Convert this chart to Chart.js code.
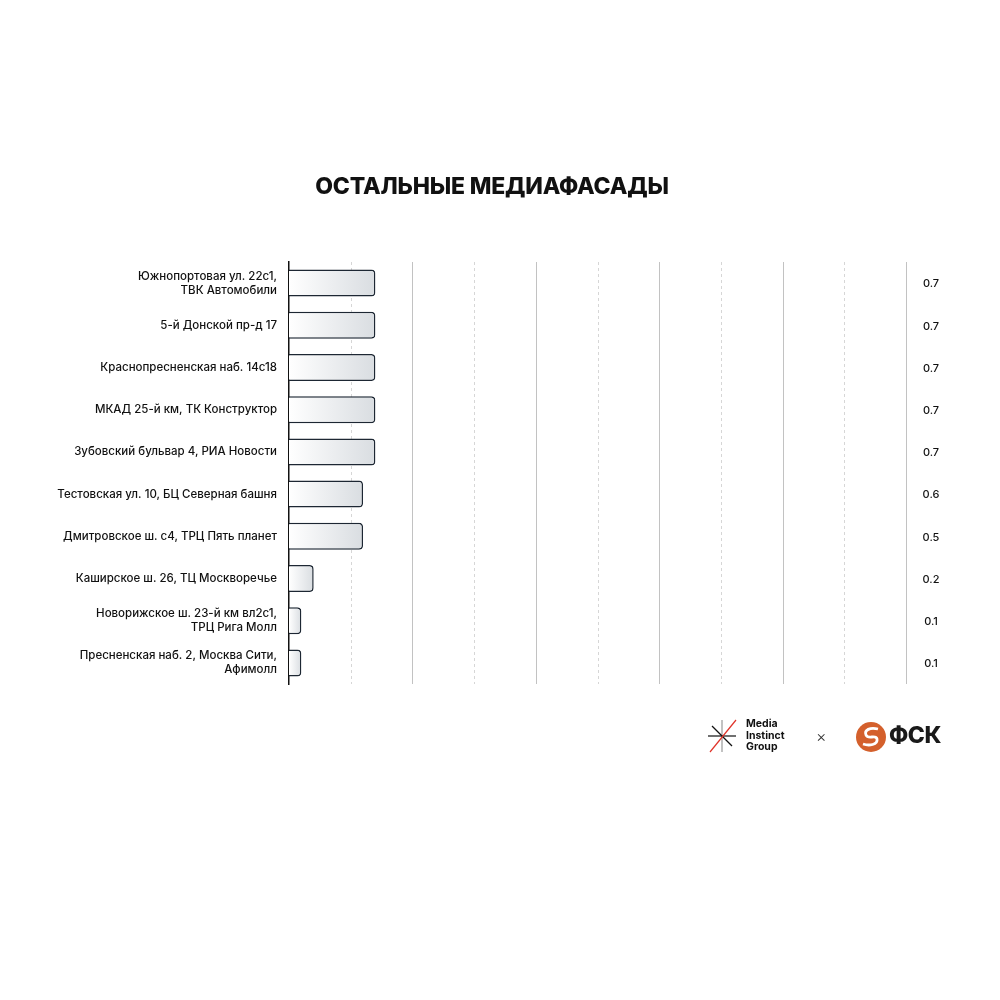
<!DOCTYPE html>
<html>
<head>
<meta charset="utf-8">
<script src="https://cdn.jsdelivr.net/npm/chart.js@4"></script>
<style>
  body { margin: 0; background: #fff; }
  #wrap { position: relative; width: 1000px; height: 1000px; font-family: "Inter", sans-serif; }
  #title { position: absolute; left: 292px; width: 400px; top: 172px; text-align: center; font-size: 23px; font-weight: 800; color: #111; letter-spacing: -0.2px; }
  #logoMig { position: absolute; left: 706px; top: 718px; }
  #migText { position: absolute; left: 746px; top: 718px; font-size: 10.5px; font-weight: 700; line-height: 11.5px; color: #111; }
  #cross { position: absolute; left: 816px; top: 726px; font-size: 16px; font-weight: 300; color: #333; }
  #logoFsk { position: absolute; left: 855px; top: 721px; }
  #fskText { position: absolute; left: 889px; top: 721px; font-size: 23px; font-weight: 800; color: #1a1a1a; letter-spacing: -0.5px; }
</style>
</head>
<body>
<div id="wrap">
  <canvas id="chart"></canvas>
  <div id="title">ОСТАЛЬНЫЕ МЕДИАФАСАДЫ</div>
  <svg id="logoMig" width="34" height="36" viewBox="0 0 34 36">
    <line x1="16" y1="2" x2="16" y2="34" stroke="#999" stroke-width="1.2"/>
    <line x1="2" y1="18" x2="30" y2="18" stroke="#111" stroke-width="1.2"/>
    <line x1="6" y1="8" x2="26" y2="28" stroke="#111" stroke-width="1.2"/>
    <line x1="4" y1="34" x2="30" y2="2" stroke="#e0342a" stroke-width="1.2"/>
  </svg>
  <div id="migText">Media<br>Instinct<br>Group</div>
  <div id="cross">×</div>
  <svg id="logoFsk" width="32" height="32" viewBox="0 0 32 32">
    <circle cx="16" cy="16" r="15" fill="#d4602c"/>
    <path d="M23 8 C15 6 9 9 11 14 C13 19 21 13 22 18 C23 24 14 25 8 23" fill="none" stroke="#fff" stroke-width="2.8"/>
  </svg>
  <div id="fskText">ФСК</div>
</div>
<script>
const categories = [
  ["Южнопортовая ул. 22с1,", "ТВК Автомобили"],
  "5-й Донской пр-д 17",
  "Краснопресненская наб. 14с18",
  "МКАД 25-й км, ТК Конструктор",
  "Зубовский бульвар 4, РИА Новости",
  "Тестовская ул. 10, БЦ Северная башня",
  "Дмитровское ш. с4, ТРЦ Пять планет",
  "Каширское ш. 26, ТЦ Москворечье",
  ["Новорижское ш. 23-й км вл2с1,", "ТРЦ Рига Молл"],
  ["Пресненская наб. 2, Москва Сити,", "Афимолл"]
];
// bar lengths as drawn, and the printed values on the right
const values = [0.7, 0.7, 0.7, 0.7, 0.7, 0.6, 0.6, 0.2, 0.1, 0.1];
const valueLabels = ["0.7", "0.7", "0.7", "0.7", "0.7", "0.6", "0.5", "0.2", "0.1", "0.1"];
const xMax = 5;
const xStep = 0.5;

// dashed / solid vertical grid lines from the x scale ticks
const gridPlugin = {
  id: "grid",
  beforeDatasetsDraw(chart) {
    const { ctx, chartArea, scales } = chart;
    ctx.save();
    scales.x.ticks.forEach(t => {
      if (t.value === 0) return;
      const x = Math.round(scales.x.getPixelForValue(t.value)) + 0.5;
      const whole = Math.abs(t.value - Math.round(t.value)) < 1e-6;
      ctx.beginPath();
      ctx.lineWidth = 1;
      ctx.strokeStyle = whole ? "#c2c2c2" : "#d6d6d6";
      ctx.setLineDash(whole ? [] : [3, 3]);
      ctx.moveTo(x, chartArea.top);
      ctx.lineTo(x, chartArea.bottom);
      ctx.stroke();
    });
    ctx.restore();
  }
};

// values printed at the right edge
const valuePlugin = {
  id: "values",
  afterDatasetsDraw(chart) {
    const { ctx, chartArea, scales } = chart;
    ctx.save();
    ctx.font = "500 11px Inter";
    ctx.fillStyle = "#111";
    ctx.textAlign = "center";
    ctx.textBaseline = "middle";
    valueLabels.forEach((v, i) => {
      ctx.fillText(v, chartArea.right + 25, scales.y.getPixelForValue(i) + 1);
    });
    ctx.restore();
  }
};

const ctx = document.getElementById("chart");
new Chart(ctx, {
  type: "bar",
  data: {
    labels: categories,
    datasets: [{
      data: values,
      backgroundColor: function (c) {
        const chart = c.chart;
        const area = chart.chartArea;
        if (!area) return "#e6e9ec";
        const xEnd = chart.scales.x.getPixelForValue(c.raw);
        const g = chart.ctx.createLinearGradient(area.left, 0, xEnd, 0);
        g.addColorStop(0, "#ffffff");
        g.addColorStop(1, "#d9dde1");
        return g;
      },
      borderColor: "#1d2733",
      borderWidth: 1.5,
      borderSkipped: "start",
      borderRadius: 4,
      barPercentage: 0.8,
      categoryPercentage: 0.8
    }]
  },
  options: {
    indexAxis: "y",
    responsive: true,
    maintainAspectRatio: false,
    animation: false,
    layout: { padding: { left: 0, right: 94, top: 262, bottom: 316 } },
    plugins: {
      legend: { display: false },
      tooltip: { enabled: false }
    },
    scales: {
      x: {
        display: false,
        min: 0,
        max: xMax,
        ticks: { stepSize: xStep }
      },
      y: {
        afterFit(scale) { scale.width = 289; },
        grid: { display: false },
        border: { display: true, color: "#111", width: 1.5 },
        ticks: {
          color: "#111",
          padding: 4,
          font: { family: "Inter", size: 11.5, weight: "500", lineHeight: 1.22 }
        }
      }
    }
  },
  plugins: [gridPlugin, valuePlugin]
});
</script>
</body>
</html>
